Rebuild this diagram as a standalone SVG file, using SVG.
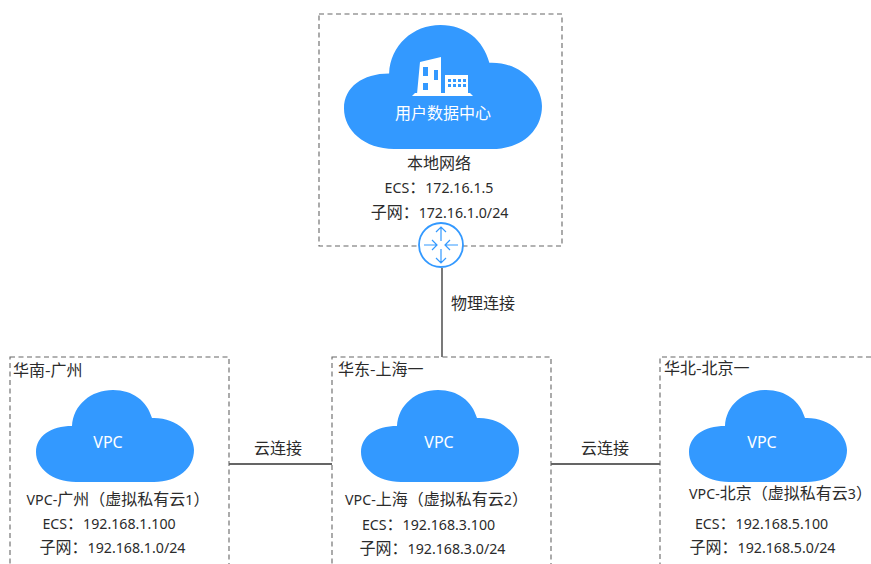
<svg xmlns="http://www.w3.org/2000/svg" width="871" height="564" viewBox="0 0 871 564">
<style>
text{font-family:"Noto Sans CJK SC","Noto Sans",sans-serif;font-size:16px;fill:#2b2b2b;text-anchor:middle}
tspan{font-family:"Noto Sans",sans-serif;font-size:14.2px}
.l{text-anchor:start}
.w{fill:#fff}
.box{fill:none;stroke:#666;stroke-width:1.1;stroke-dasharray:5 3.5}
.cloud{fill:#3399ff}
.con{fill:none;stroke:#333;stroke-width:1.3}
.r{fill:none;stroke:#3399ff;stroke-width:1.2}
.v{font-size:16px;fill:#fff}
</style>
<defs>
<path id="c" d="M40 92C16 92 0 78 0 62C0 46 15 36 36 36C37 15 55 0 77 0C97 0 111 11 116 28C141 27 158 45 158 60C158 78 142 92 118 92Z"/>
</defs>
<g id="connectors">
<path class="con" d="M442 268V357M229 464H332M551 464H660"/>
<text x="483" y="309">物理连接</text>
<text x="278" y="454">云连接</text>
<text x="605" y="454">云连接</text>
</g>
<g id="dc">
<rect class="box" x="319" y="14" width="243" height="232"/>
<use href="#c" class="cloud" transform="translate(344 25) scale(1.253 1.348)"/>
<path d="M417 94L420 62L441 57V94ZM423 67V76H428V67ZM434 70V80H438V70ZM423 83V90H428V83Z" fill-rule="evenodd" fill="#fff"/>
<path d="M445 75H468V94H445ZM448 79V82H451V79ZM453 79V82H456V79ZM458 79V82H461V79ZM463 79V82H466V79ZM448 84V87H451V84ZM453 84V87H456V84ZM458 84V87H461V84ZM463 84V87H466V84Z" fill-rule="evenodd" fill="#fff"/>
<path d="M412 96L415 93H470L473 96Z" fill="#fff"/>
<text class="w" x="443" y="119">用户数据中心</text>
<text x="439" y="169">本地网络</text>
<text x="439" y="193"><tspan>ECS</tspan>：<tspan>172.16.1.5</tspan></text>
<text x="439.500" y="218">子网：<tspan>172.16.1.0/24</tspan></text>
</g>
<g id="router">
<circle cx="441" cy="245" r="22" fill="#fff" stroke="#3399ff" stroke-width="1.8"/>
<path class="r" d="M441 227V241M436 232L441 227L446 232M441 249V263M436 258L441 263L446 258M424 245H437M432 240L437 245L432 250M445 245H458M450 240L445 245L450 250"/>
</g>
<g id="gz">
<rect class="box" x="10" y="357" width="219" height="220"/>
<text class="l" x="13" y="376">华南-广州</text>
<use href="#c" class="cloud" x="36" y="390"/>
<text class="w" x="108" y="448"><tspan class="v">VPC</tspan></text>
<text x="118" y="505"><tspan>VPC-</tspan>广州（虚拟私有云<tspan>1</tspan>）</text>
<text x="109" y="529"><tspan>ECS</tspan>：<tspan>192.168.1.100</tspan></text>
<text x="112.500" y="553">子网：<tspan>192.168.1.0/24</tspan></text>
</g>
<g id="sh">
<rect class="box" x="332" y="357" width="219" height="220"/>
<text class="l" x="338" y="375">华东-上海一</text>
<use href="#c" class="cloud" x="361" y="390"/>
<text class="w" x="439" y="448"><tspan class="v">VPC</tspan></text>
<text x="436.500" y="505"><tspan>VPC-</tspan>上海（虚拟私有云<tspan>2</tspan>）</text>
<text x="428.500" y="530"><tspan>ECS</tspan>：<tspan>192.168.3.100</tspan></text>
<text x="432.500" y="554">子网：<tspan>192.168.3.0/24</tspan></text>
</g>
<g id="bj">
<path class="box" d="M871 357H660V564"/>
<text class="l" x="664" y="374">华北-北京一</text>
<use href="#c" class="cloud" x="689" y="390"/>
<text class="w" x="762" y="448"><tspan class="v">VPC</tspan></text>
<text x="780.500" y="499"><tspan>VPC-</tspan>北京（虚拟私有云<tspan>3</tspan>）</text>
<text x="761.500" y="529"><tspan>ECS</tspan>：<tspan>192.168.5.100</tspan></text>
<text x="762.500" y="553">子网：<tspan>192.168.5.0/24</tspan></text>
</g>
</svg>
